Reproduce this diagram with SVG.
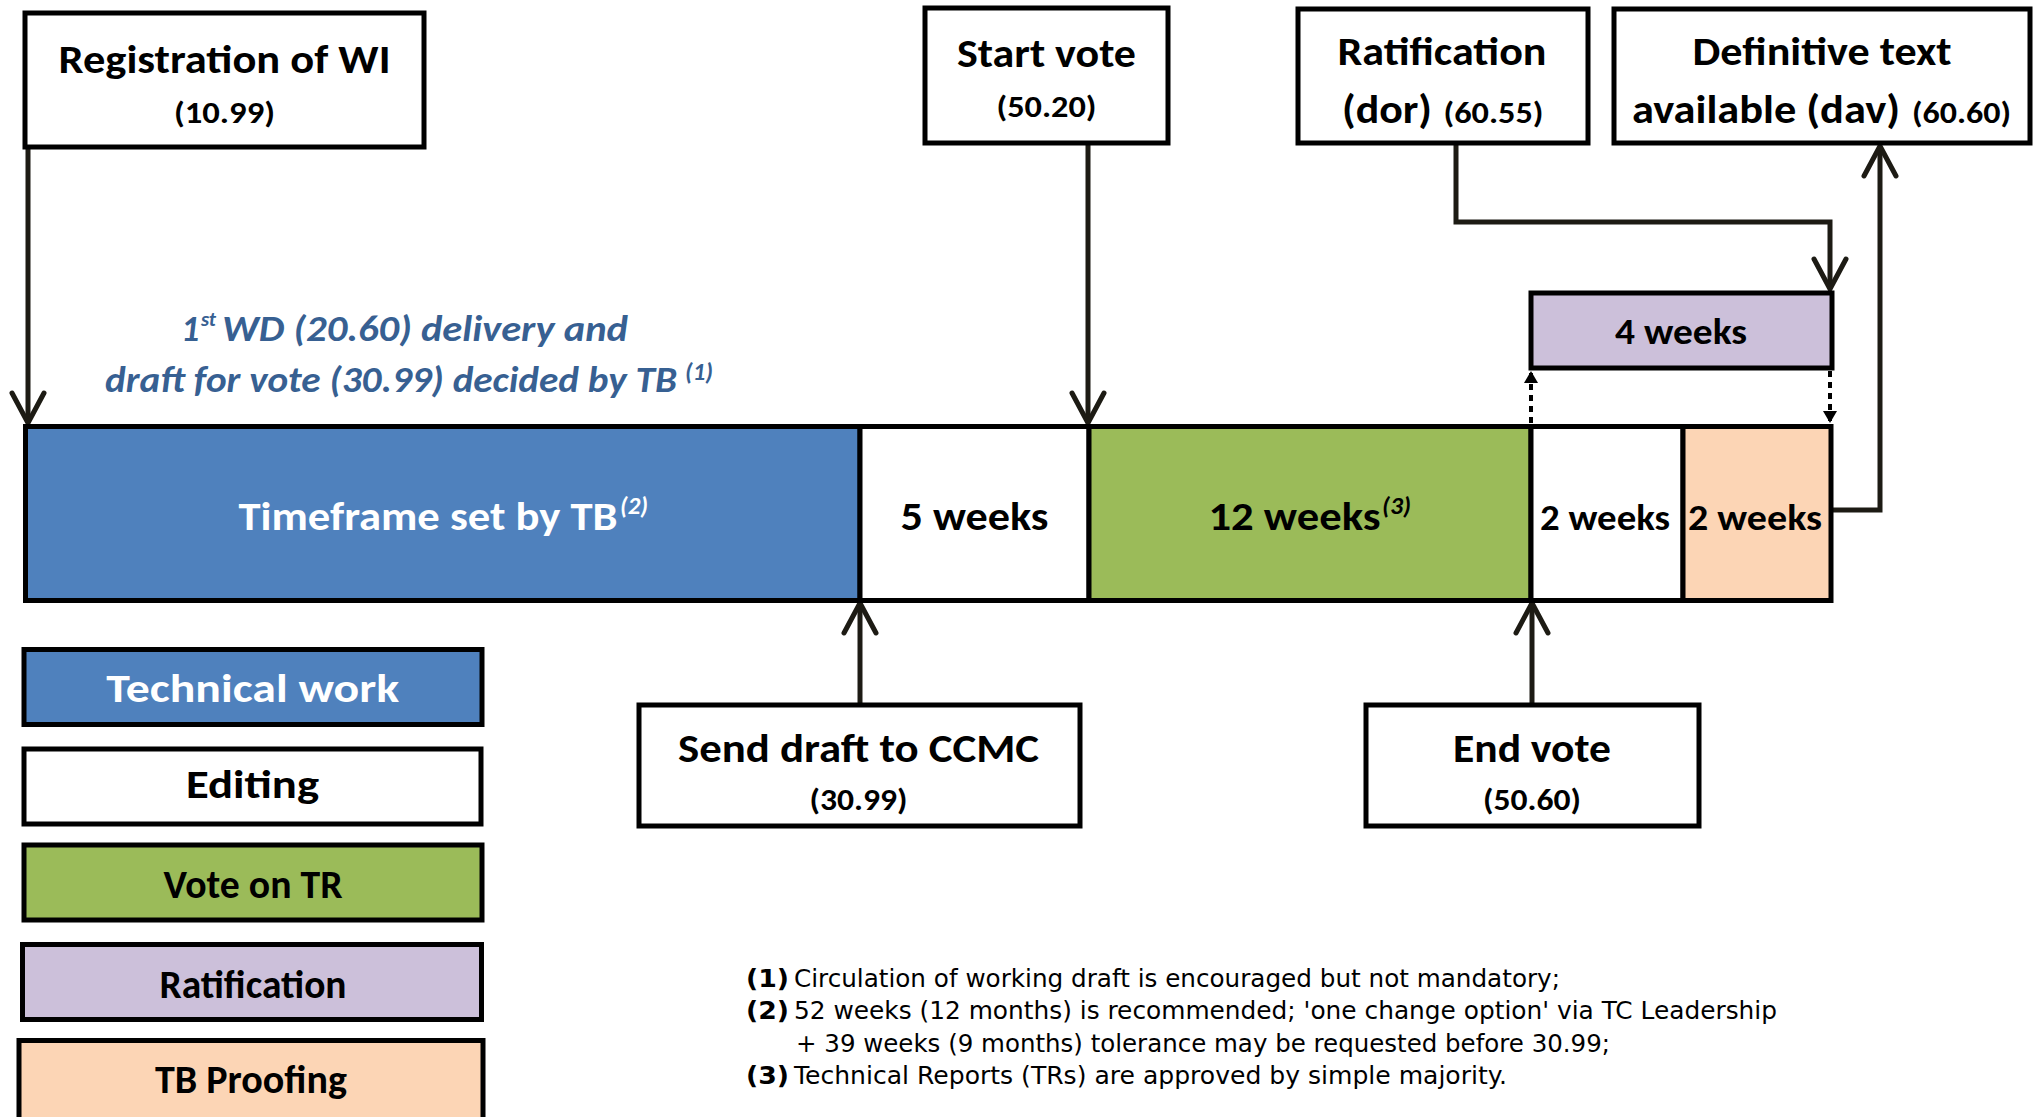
<svg xmlns="http://www.w3.org/2000/svg" width="2038" height="1117" viewBox="0 0 2038 1117">
<style>
  .t{font-family:Carlito,Lato,"Liberation Sans",sans-serif;font-weight:700;fill:#000}
  .w{fill:#fff}
  .m{text-anchor:middle}
  .big{font-size:40px}
  .mid{font-size:37px}
  .sm{font-size:31px}
  .leg{font-size:41px}
  .sup{font-size:25px;font-style:italic}
  .blue{font-family:Carlito,Lato,"Liberation Sans",sans-serif;font-weight:700;font-style:italic;fill:#376092;font-size:36px}
  .fn{font-family:"DejaVu Sans","Liberation Sans",sans-serif;font-size:24px;fill:#000}
  .fnb{font-weight:700}
  .box{fill:#fff;stroke:#000;stroke-width:5}
  .blu{fill:#4F81BD;stroke:#000;stroke-width:5}
  .grn{fill:#9BBB59;stroke:#000;stroke-width:5}
  .lav{fill:#CCC0DA;stroke:#000;stroke-width:5}
  .pch{fill:#FCD5B5;stroke:#000;stroke-width:5}
  .con{fill:none;stroke:#1d1b14;stroke-width:5}
  .dot{fill:none;stroke:#000;stroke-width:4;stroke-dasharray:6 5}
</style>
<defs>
  <marker id="open" viewBox="0 0 40 40" refX="36" refY="20" markerWidth="40" markerHeight="40" markerUnits="userSpaceOnUse" orient="auto">
    <path d="M6,4 L36,20 L6,36" fill="none" stroke="#1d1b14" stroke-width="5" stroke-linecap="round"/>
  </marker>
  <marker id="tri" viewBox="0 0 12 14" refX="12" refY="7" markerWidth="12" markerHeight="14" markerUnits="userSpaceOnUse" orient="auto">
    <path d="M0,0 L12,7 L0,14 Z" fill="#000"/>
  </marker>
</defs>
<rect width="2038" height="1117" fill="#fff"/>

<g id="connectors">
  <path class="con" d="M28,147 V423" marker-end="url(#open)"/>
  <path class="con" d="M1088,143 V423" marker-end="url(#open)"/>
  <path class="con" d="M1456,143 V222 H1830 V289" marker-end="url(#open)"/>
  <path class="con" d="M1833,510 H1880 V146" marker-end="url(#open)"/>
  <path class="con" d="M860,704 V603" marker-end="url(#open)"/>
  <path class="con" d="M1532,704 V603" marker-end="url(#open)"/>
  <path class="dot" d="M1531,423 V371" marker-end="url(#tri)"/>
  <path class="dot" d="M1830,371 V423" marker-end="url(#tri)"/>
</g>

<g id="registration">
  <rect class="box" x="25" y="13" width="399" height="134"/>
  <text class="t big m" x="224.5" y="73" textLength="332" lengthAdjust="spacingAndGlyphs">Registration of WI</text>
  <text class="t sm m" x="224.5" y="123" textLength="101" lengthAdjust="spacingAndGlyphs">(10.99)</text>
</g>

<g id="start-vote">
  <rect class="box" x="925" y="8" width="243" height="135"/>
  <text class="t big m" x="1046.5" y="67" textLength="179" lengthAdjust="spacingAndGlyphs">Start vote</text>
  <text class="t sm m" x="1046.5" y="117" textLength="100" lengthAdjust="spacingAndGlyphs">(50.20)</text>
</g>

<g id="ratification">
  <rect class="box" x="1298" y="9" width="290" height="134"/>
  <text class="t big m" x="1442" y="65" textLength="209" lengthAdjust="spacingAndGlyphs">Ratification</text>
  <text class="t big" x="1342" y="123" textLength="90" lengthAdjust="spacingAndGlyphs">(dor)</text>
  <text class="t sm" x="1443.5" y="123" textLength="100" lengthAdjust="spacingAndGlyphs">(60.55)</text>
</g>

<g id="definitive-text">
  <rect class="box" x="1614" y="9" width="416" height="134"/>
  <text class="t big m" x="1822" y="65" textLength="259" lengthAdjust="spacingAndGlyphs">Definitive text</text>
  <text class="t big" x="1632" y="123" textLength="268" lengthAdjust="spacingAndGlyphs">available (dav)</text>
  <text class="t sm" x="1912" y="123" textLength="99" lengthAdjust="spacingAndGlyphs">(60.60)</text>
</g>

<g id="four-weeks">
  <rect class="lav" x="1531" y="293" width="301" height="75"/>
  <text class="t mid m" x="1681" y="344" textLength="132" lengthAdjust="spacingAndGlyphs">4 weeks</text>
</g>

<g id="note-wd">
  <text class="blue" x="181" y="341">1</text>
  <text class="blue" x="201" y="326" style="font-size:21px" textLength="15" lengthAdjust="spacingAndGlyphs">st</text>
  <text class="blue" x="222" y="341" textLength="406" lengthAdjust="spacingAndGlyphs">WD (20.60) delivery and</text>
  <text class="blue" x="105" y="392" textLength="572" lengthAdjust="spacingAndGlyphs">draft for vote (30.99) decided by TB</text>
  <text class="blue" x="685" y="380" style="font-size:25px" textLength="28" lengthAdjust="spacingAndGlyphs">(1)</text>
</g>

<g id="timeframe">
  <rect class="blu" x="25.5" y="426.5" width="834.5" height="174"/>
  <text class="t w big" x="238.5" y="530" textLength="379" lengthAdjust="spacingAndGlyphs">Timeframe set by TB</text>
  <text class="t w sup" x="620" y="514" textLength="28" lengthAdjust="spacingAndGlyphs">(2)</text>
</g>

<g id="five-weeks">
  <rect class="box" x="860" y="426.5" width="229" height="174"/>
  <text class="t big m" x="974.5" y="530" textLength="148" lengthAdjust="spacingAndGlyphs">5 weeks</text>
</g>

<g id="twelve-weeks">
  <rect class="grn" x="1089" y="426.5" width="442" height="174"/>
  <text class="t big" x="1208.5" y="530" textLength="172" lengthAdjust="spacingAndGlyphs">12 weeks</text>
  <text class="t sup" x="1382" y="514" textLength="29" lengthAdjust="spacingAndGlyphs">(3)</text>
</g>

<g id="two-weeks-editing">
  <rect class="box" x="1531" y="426.5" width="152" height="174"/>
  <text class="t mid m" x="1605" y="530" textLength="130" lengthAdjust="spacingAndGlyphs">2 weeks</text>
</g>

<g id="two-weeks-proofing">
  <rect class="pch" x="1683" y="426.5" width="148" height="174"/>
  <text class="t mid m" x="1755" y="530" textLength="134" lengthAdjust="spacingAndGlyphs">2 weeks</text>
</g>

<g id="send-draft">
  <rect class="box" x="639" y="705" width="441" height="121"/>
  <text class="t big m" x="858.5" y="762" textLength="361" lengthAdjust="spacingAndGlyphs">Send draft to CCMC</text>
  <text class="t sm m" x="858.5" y="810" textLength="98" lengthAdjust="spacingAndGlyphs">(30.99)</text>
</g>

<g id="end-vote">
  <rect class="box" x="1366" y="705" width="333" height="121"/>
  <text class="t big m" x="1532" y="762" textLength="158" lengthAdjust="spacingAndGlyphs">End vote</text>
  <text class="t sm m" x="1532" y="810" textLength="98" lengthAdjust="spacingAndGlyphs">(50.60)</text>
</g>

<g id="legend-technical">
  <rect class="blu" x="24" y="649.5" width="458" height="75"/>
  <text class="t w leg m" x="252.7" y="702" textLength="293" lengthAdjust="spacingAndGlyphs">Technical work</text>
</g>
<g id="legend-editing">
  <rect class="box" x="24" y="749" width="457" height="75"/>
  <text class="t leg m" x="252.5" y="798" textLength="133" lengthAdjust="spacingAndGlyphs">Editing</text>
</g>
<g id="legend-vote">
  <rect class="grn" x="24" y="845" width="458" height="75"/>
  <text class="t leg m" x="253" y="898" textLength="179" lengthAdjust="spacingAndGlyphs">Vote on TR</text>
</g>
<g id="legend-ratification">
  <rect class="lav" x="22.5" y="944.5" width="459" height="75"/>
  <text class="t leg m" x="253" y="998" textLength="187" lengthAdjust="spacingAndGlyphs">Ratification</text>
</g>
<g id="legend-proofing">
  <rect class="pch" x="19" y="1040.5" width="464" height="100"/>
  <text class="t leg m" x="251" y="1093" textLength="192" lengthAdjust="spacingAndGlyphs">TB Proofing</text>
</g>

<g id="footnotes">
  <text class="fn fnb" x="746" y="987" textLength="43" lengthAdjust="spacingAndGlyphs">(1)</text>
  <text class="fn" x="794" y="987" textLength="766" lengthAdjust="spacingAndGlyphs">Circulation of working draft is encouraged but not mandatory;</text>
  <text class="fn fnb" x="746" y="1019" textLength="43" lengthAdjust="spacingAndGlyphs">(2)</text>
  <text class="fn" x="794" y="1019" textLength="983" lengthAdjust="spacingAndGlyphs">52 weeks (12 months) is recommended; 'one change option' via TC Leadership</text>
  <text class="fn" x="796" y="1052" textLength="814" lengthAdjust="spacingAndGlyphs">+ 39 weeks (9 months) tolerance may be requested before 30.99;</text>
  <text class="fn fnb" x="746" y="1084" textLength="43" lengthAdjust="spacingAndGlyphs">(3)</text>
  <text class="fn" x="794" y="1084" textLength="713" lengthAdjust="spacingAndGlyphs">Technical Reports (TRs) are approved by simple majority.</text>
</g>
</svg>
